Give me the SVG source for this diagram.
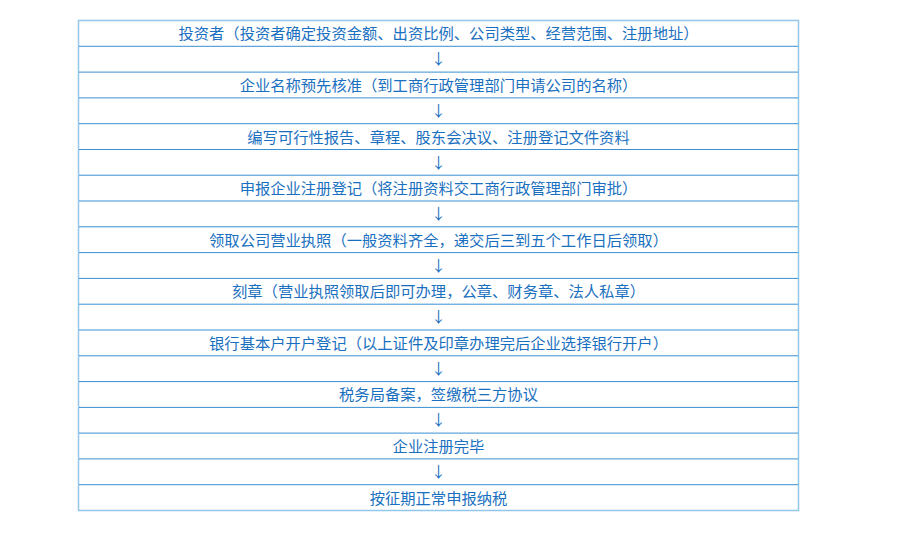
<svg xmlns="http://www.w3.org/2000/svg" width="900" height="548" viewBox="0 0 900 548">
<style>
.frame{fill:#ffffff;stroke:#92c7ea;stroke-width:1.5}
.sep{stroke:#3a8fd2;stroke-width:1}
.t{font-family:"Noto Sans CJK SC","Noto Sans",sans-serif;font-size:15.3px;fill:#1a70c0;text-anchor:middle}
.a{font-family:"Noto Sans CJK SC","DejaVu Sans",sans-serif;font-size:15px;fill:#1a70c0;text-anchor:middle}
</style>
<rect width="900" height="548" fill="#ffffff"/>
<g id="table">
<rect class="frame" x="78.5" y="20.5" width="720" height="490"/>
<line class="sep" x1="79" x2="798" y1="46.3" y2="46.3"/>
<line class="sep" x1="79" x2="798" y1="72.1" y2="72.1"/>
<line class="sep" x1="79" x2="798" y1="97.9" y2="97.9"/>
<line class="sep" x1="79" x2="798" y1="123.7" y2="123.7"/>
<line class="sep" x1="79" x2="798" y1="149.5" y2="149.5"/>
<line class="sep" x1="79" x2="798" y1="175.2" y2="175.2"/>
<line class="sep" x1="79" x2="798" y1="201.0" y2="201.0"/>
<line class="sep" x1="79" x2="798" y1="226.8" y2="226.8"/>
<line class="sep" x1="79" x2="798" y1="252.6" y2="252.6"/>
<line class="sep" x1="79" x2="798" y1="278.4" y2="278.4"/>
<line class="sep" x1="79" x2="798" y1="304.2" y2="304.2"/>
<line class="sep" x1="79" x2="798" y1="330.0" y2="330.0"/>
<line class="sep" x1="79" x2="798" y1="355.8" y2="355.8"/>
<line class="sep" x1="79" x2="798" y1="381.6" y2="381.6"/>
<line class="sep" x1="79" x2="798" y1="407.4" y2="407.4"/>
<line class="sep" x1="79" x2="798" y1="433.1" y2="433.1"/>
<line class="sep" x1="79" x2="798" y1="458.9" y2="458.9"/>
<line class="sep" x1="79" x2="798" y1="484.7" y2="484.7"/>
</g>
<g id="step1"><text class="t" x="438.5" y="39.3">投资者（投资者确定投资金额、出资比例、公司类型、经营范围、注册地址）</text></g>
<g id="step2"><text class="t" x="438.5" y="90.9">企业名称预先核准（到工商行政管理部门申请公司的名称）</text></g>
<g id="step3"><text class="t" x="438.5" y="142.5">编写可行性报告、章程、股东会决议、注册登记文件资料</text></g>
<g id="step4"><text class="t" x="438.5" y="194.0">申报企业注册登记（将注册资料交工商行政管理部门审批）</text></g>
<g id="step5"><text class="t" x="438.5" y="245.6">领取公司营业执照（一般资料齐全，递交后三到五个工作日后领取）</text></g>
<g id="step6"><text class="t" x="438.5" y="297.2">刻章（营业执照领取后即可办理，公章、财务章、法人私章）</text></g>
<g id="step7"><text class="t" x="438.5" y="348.8">银行基本户开户登记（以上证件及印章办理完后企业选择银行开户）</text></g>
<g id="step8"><text class="t" x="438.5" y="400.4">税务局备案，签缴税三方协议</text></g>
<g id="step9"><text class="t" x="438.5" y="451.9">企业注册完毕</text></g>
<g id="step10"><text class="t" x="438.5" y="503.5">按征期正常申报纳税</text></g>
<g id="connectors">
<text class="a" x="438.5" y="64.3">↓</text>
<text class="a" x="438.5" y="115.9">↓</text>
<text class="a" x="438.5" y="167.5">↓</text>
<text class="a" x="438.5" y="219.0">↓</text>
<text class="a" x="438.5" y="270.6">↓</text>
<text class="a" x="438.5" y="322.2">↓</text>
<text class="a" x="438.5" y="373.8">↓</text>
<text class="a" x="438.5" y="425.4">↓</text>
<text class="a" x="438.5" y="476.9">↓</text>
</g>
</svg>
